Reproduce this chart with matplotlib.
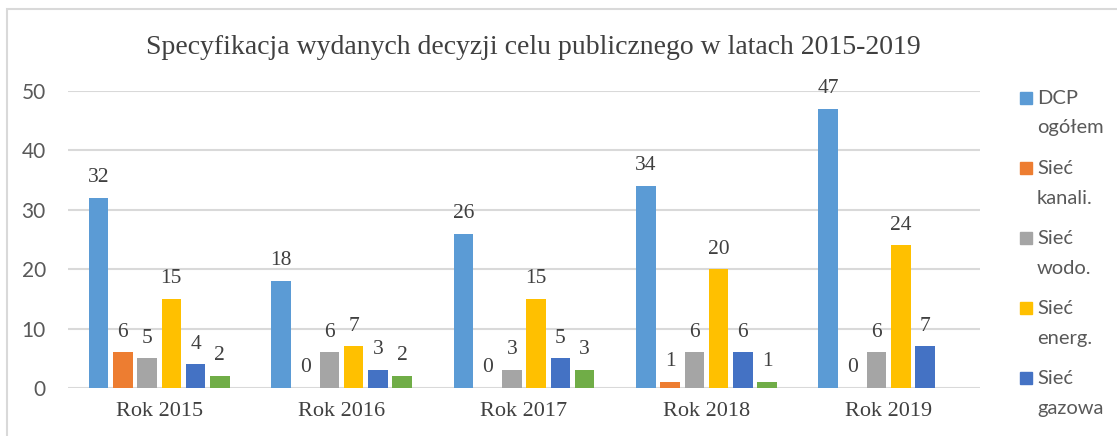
import numpy as np
import matplotlib.pyplot as plt
from matplotlib.patches import Rectangle

# Dane
years = ['Rok 2015', 'Rok 2016', 'Rok 2017', 'Rok 2018', 'Rok 2019']
dcp_ogolem = [32, 18, 26, 34, 47]
siec_kanali = [6, 0, 0, 1, 0]
siec_wodo = [5, 6, 3, 6, 6]
siec_energ = [15, 7, 15, 20, 24]
siec_gazowa = [4, 3, 5, 6, 7]
siec_inna = [2, 2, 3, 1, np.nan]  # zielona seria, brak w 2019 i w legendzie

series = [dcp_ogolem, siec_kanali, siec_wodo, siec_energ, siec_gazowa, siec_inna]
labels = ['DCP\nogółem', 'Sieć\nkanali.', 'Sieć\nwodo.', 'Sieć\nenerg.', 'Sieć\ngazowa']
colors = ['#5B9BD5', '#ED7D31', '#A5A5A5', '#FFC000', '#4472C4', '#70AD47']

serif = 'Liberation Serif'
sans = 'Lato'
W, H = 1117, 436

fig = plt.figure(figsize=(W / 100, H / 100), dpi=100)
ax = fig.add_axes([68/W, 1 - 388/H, 912/W, (388 - 91)/H])

x = np.arange(len(years))
step = 0.133
width = 0.107
for i, (vals, col) in enumerate(zip(series, colors)):
    pos = x + (i - 2.5) * step
    ax.bar(pos, vals, width, color=col, zorder=3)
    for p, v in zip(pos, vals):
        if np.isnan(v):
            continue
        ax.text(p, v + 1.8, f'{int(v)}', ha='center', va='bottom',
                fontsize=15.5, family=serif, color='#404040')

ax.set_ylim(0, 50)
ax.set_xlim(-0.5, len(years) - 0.5)
ax.set_yticks(range(0, 51, 10))
ax.yaxis.grid(True, color='#D9D9D9', linewidth=1.5, zorder=0)
for s in ax.spines.values():
    s.set_visible(False)
ax.tick_params(length=0)
ax.tick_params(axis='y', pad=16)
ax.tick_params(axis='x', pad=10)
ax.set_xticks(x)
ax.set_xticklabels(years, fontsize=16, family=serif, color='#404040')
for t in ax.get_yticklabels():
    t.set_fontsize(15)
    t.set_family(sans)
    t.set_color('#595959')

fig.text(533/W, 1 - 48/H, 'Specyfikacja wydanych decyzji celu publicznego w latach 2015-2019',
         ha='center', va='center', fontsize=20, family=serif, color='#404040')

# legenda rysowana recznie: kwadrat przy pierwszej linii opisu
for i, lab in enumerate(labels):
    y0 = 98 + 70 * i
    fig.add_artist(Rectangle((1020/W, 1 - (y0 + 6)/H), 12/W, 12/H,
                             transform=fig.transFigure, color=colors[i]))
    first, second = lab.split('\n')
    fig.text(1037/W, 1 - y0/H, first, ha='left', va='center',
             fontsize=14.5, family=sans, color='#595959')
    fig.text(1037/W, 1 - (y0 + 30)/H, second, ha='left', va='center',
             fontsize=14.5, family=sans, color='#595959')

fig.add_artist(Rectangle((7/W, -0.1), 1.2, 1 - 9/H + 0.1,
                         transform=fig.transFigure, fill=False,
                         edgecolor='#D9D9D9', linewidth=1.5))

fig.savefig('out.png', dpi=100)
